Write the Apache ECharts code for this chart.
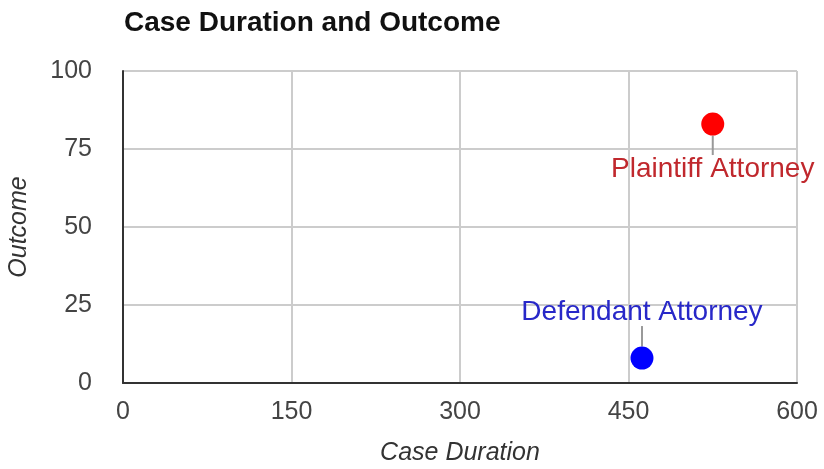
<!DOCTYPE html>
<html>
<head>
<meta charset="utf-8">
<script src="https://cdn.jsdelivr.net/npm/echarts@6/dist/echarts.min.js"></script>
<style>
  html, body { margin: 0; padding: 0; background: #fff; }
  #ec { width: 824px; height: 469px; }
</style>
</head>
<body>
<div id="ec"></div>
<script>
const attorneys = ["Plaintiff Attorney", "Defendant Attorney"];
const caseDuration = [525, 462];
const outcome = [83, 8];
const xTicks = [0, 150, 300, 450, 600];
const yTicks = [0, 25, 50, 75, 100];

const dotColors = ["#ff0000", "#0000ff"];
const labelColors = ["#c0282d", "#2828c8"];
const labelShift = [45, -46];

var myChart = echarts.init(document.getElementById("ec"));

myChart.setOption({
  backgroundColor: "#fff",
  animation: false,
  title: {
    text: "Case Duration and Outcome",
    left: 119,
    top: 4,
    textStyle: {
      fontFamily: "Liberation Sans",
      fontSize: 28,
      fontWeight: "bold",
      color: "#111",
    },
  },
  grid: {
    left: 123,
    right: 27,
    top: 71,
    bottom: 86,
    containLabel: false,
    outerBoundsMode: "none",
  },
  xAxis: {
    type: "value",
    min: xTicks[0],
    max: xTicks[xTicks.length - 1],
    interval: 150,
    name: "Case Duration",
    nameLocation: "middle",
    nameGap: 58,
    nameTextStyle: {
      fontFamily: "Liberation Sans",
      fontSize: 25,
      fontStyle: "italic",
      color: "#333",
    },
    axisLine: { show: true, lineStyle: { color: "#333", width: 2 } },
    axisTick: { show: false },
    axisLabel: {
      margin: 17,
      fontFamily: "Liberation Sans",
      fontSize: 25,
      color: "#444",
    },
    splitLine: { show: true, lineStyle: { color: "#cccccc", width: 2 } },
  },
  yAxis: {
    type: "value",
    min: yTicks[0],
    max: yTicks[yTicks.length - 1],
    interval: 25,
    name: "Outcome",
    nameLocation: "middle",
    nameGap: 91,
    nameTextStyle: {
      fontFamily: "Liberation Sans",
      fontSize: 25,
      fontStyle: "italic",
      color: "#333",
    },
    axisLine: { show: true, lineStyle: { color: "#333", width: 2 } },
    axisTick: { show: false },
    axisLabel: {
      margin: 31,
      fontFamily: "Liberation Sans",
      fontSize: 25,
      color: "#444",
    },
    splitLine: { show: true, lineStyle: { color: "#cccccc", width: 2 } },
  },
  series: attorneys.map((name, i) => ({
    name: name,
    type: "scatter",
    symbolSize: 23,
    data: [[caseDuration[i], outcome[i]]],
    itemStyle: { color: dotColors[i], opacity: 1 },
    label: {
      show: true,
      position: "inside",
      formatter: name,
      fontFamily: "Liberation Sans",
      fontSize: 28,
      color: labelColors[i],
    },
    labelLayout: { dy: labelShift[i] },
    labelLine: {
      show: true,
      lineStyle: { color: "#999", width: 2 },
    },
  })),
});
</script>
</body>
</html>
